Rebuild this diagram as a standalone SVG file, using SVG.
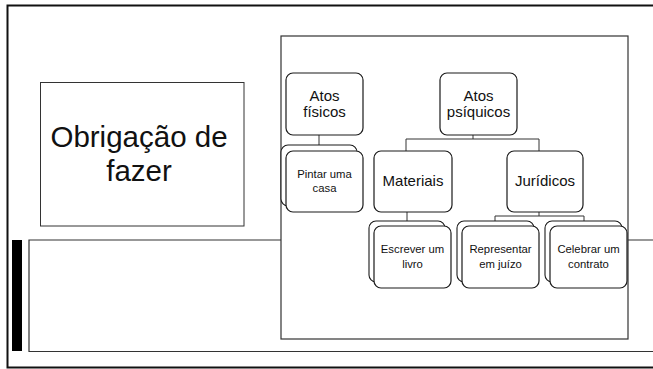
<svg xmlns="http://www.w3.org/2000/svg" width="653" height="369" viewBox="0 0 653 369">
<style>
.box{fill:#fff;stroke:#1a1a1a;stroke-width:1.2}
.back{fill:#fff;stroke:#1a1a1a;stroke-width:1.1}
.lbl{font-family:"Liberation Sans",Arial,sans-serif;fill:#111;text-anchor:middle}
.big{font-size:15px}
.sm{font-size:11.3px}
.con{fill:none;stroke:#333;stroke-width:1}
</style>
<rect width="653" height="369" fill="#fff"/>
<g id="frame">
<path d="M660 5.5 H7.5 V367.5 H660" fill="none" stroke="#111" stroke-width="2"/>
<rect x="12" y="240" width="10" height="111" fill="#000"/>
<path d="M660 240 H29 V351.5 H660" fill="none" stroke="#333" stroke-width="1.2"/>
</g>
<g id="title">
<rect x="40.5" y="82.5" width="203.5" height="143.5" fill="#fff" stroke="#333" stroke-width="1"/>
<text class="lbl" x="139" y="147" font-size="29.5">Obrigação de</text>
<text class="lbl" x="139" y="181" font-size="29.5">fazer</text>
</g>
<g id="panel">
<rect x="281" y="36" width="347" height="303" fill="#fff" stroke="#333" stroke-width="1.2"/>
</g>
<g id="connectors">
<path class="con" d="M319 135 V145"/>
<path class="con" d="M473 135 V139 M406 139 H539 M406 139 V151 M539 139 V151"/>
<path class="con" d="M407 212 V221"/>
<path class="con" d="M539 212 V216 M495 216 H584 M495 216 V221 M584 216 V221"/>
</g>
<g id="atos-fisicos">
<rect class="box" x="286" y="73" width="77" height="62" rx="7"/>
<text class="lbl big" x="324.5" y="101">Atos</text>
<text class="lbl big" x="324.5" y="117">físicos</text>
</g>
<g id="atos-psiquicos">
<rect class="box" x="440" y="73" width="77" height="62" rx="7"/>
<text class="lbl big" x="478.5" y="101">Atos</text>
<text class="lbl big" x="478.5" y="117">psíquicos</text>
</g>
<g id="pintar">
<rect class="back" x="281" y="145" width="76" height="61" rx="7"/>
<rect class="box" x="286" y="151" width="77" height="61" rx="7"/>
<text class="lbl sm" x="324.5" y="178">Pintar uma</text>
<text class="lbl sm" x="324.5" y="192">casa</text>
</g>
<g id="materiais">
<rect class="box" x="374" y="151" width="78" height="61" rx="7"/>
<text class="lbl big" x="413" y="186">Materiais</text>
</g>
<g id="juridicos">
<rect class="box" x="507" y="151" width="76" height="61" rx="7"/>
<text class="lbl big" x="545" y="186">Jurídicos</text>
</g>
<g id="escrever">
<rect class="back" x="369" y="221" width="76" height="61" rx="7"/>
<rect class="box" x="374" y="226" width="77" height="62" rx="7"/>
<text class="lbl sm" x="412.5" y="253">Escrever um</text>
<text class="lbl sm" x="412.5" y="268">livro</text>
</g>
<g id="representar">
<rect class="back" x="457" y="221" width="77" height="61" rx="7"/>
<rect class="box" x="462" y="226" width="77" height="62" rx="7"/>
<text class="lbl sm" x="500.5" y="253">Representar</text>
<text class="lbl sm" x="500.5" y="268">em juízo</text>
</g>
<g id="celebrar">
<rect class="back" x="545" y="221" width="77" height="61" rx="7"/>
<rect class="box" x="550" y="226" width="77" height="62" rx="7"/>
<text class="lbl sm" x="588.5" y="253">Celebrar um</text>
<text class="lbl sm" x="588.5" y="268">contrato</text>
</g>
</svg>
